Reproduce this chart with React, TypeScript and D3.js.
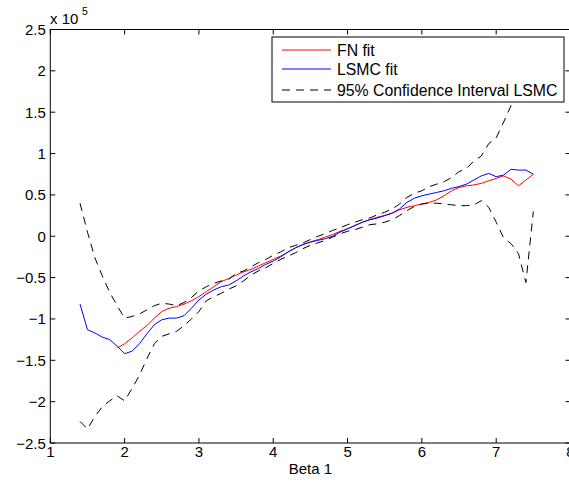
import React from "react";
import * as d3 from "d3";

const betaGrid = d3.range(62).map((i) => +(1.4 + i * 0.1).toFixed(1));

// LSMC fit (x 1e5), x from 1.4 to 7.5
const lsmcFit = [
  -0.82, -1.13, -1.17, -1.22, -1.25, -1.33, -1.42, -1.39, -1.30, -1.18,
  -1.07, -1.01, -0.99, -0.99, -0.96, -0.87, -0.77, -0.70, -0.65, -0.61,
  -0.59, -0.54, -0.48, -0.43, -0.39, -0.34, -0.30, -0.25, -0.19, -0.14,
  -0.10, -0.07, -0.05, -0.03, 0.00, 0.05, 0.09, 0.13, 0.17, 0.20,
  0.22, 0.25, 0.28, 0.33, 0.41, 0.46, 0.49, 0.51, 0.53, 0.55,
  0.58, 0.60, 0.63, 0.68, 0.73, 0.76, 0.72, 0.74, 0.81, 0.80,
  0.80, 0.75,
];

// FN fit (x 1e5), x from 1.9 to 7.5
const fnStart = 5;
const fnFit = [
  -1.35, -1.30, -1.23, -1.15, -1.08, -0.99, -0.91, -0.87, -0.85, -0.82,
  -0.78, -0.73, -0.67, -0.61, -0.55, -0.51, -0.47, -0.43, -0.40, -0.36,
  -0.32, -0.28, -0.24, -0.19, -0.14, -0.10, -0.07, -0.04, -0.01, 0.02,
  0.06, 0.09, 0.13, 0.17, 0.20, 0.23, 0.25, 0.28, 0.32, 0.35,
  0.37, 0.39, 0.41, 0.44, 0.49, 0.55, 0.59, 0.61, 0.62, 0.64,
  0.67, 0.70, 0.73, 0.69, 0.61, 0.68, 0.75,
];

// 95% confidence interval LSMC (x 1e5)
const ciUpper = [
  0.40, 0.05, -0.26, -0.48, -0.68, -0.84, -0.99, -0.97, -0.94, -0.89,
  -0.84, -0.81, -0.82, -0.84, -0.80, -0.74, -0.66, -0.61, -0.57, -0.54,
  -0.52, -0.45, -0.42, -0.37, -0.32, -0.28, -0.23, -0.19, -0.14, -0.11,
  -0.08, -0.04, 0.00, 0.03, 0.07, 0.10, 0.14, 0.17, 0.20, 0.22,
  0.26, 0.29, 0.33, 0.39, 0.47, 0.52, 0.55, 0.60, 0.63, 0.66,
  0.71, 0.78, 0.82, 0.91, 0.97, 1.12, 1.19, 1.38, 1.58, 1.80,
  2.05, 2.25,
];
const ciLower = [
  -2.24, -2.33, -2.18, -2.06, -1.99, -1.93, -1.99, -1.84, -1.68, -1.48,
  -1.30, -1.21, -1.18, -1.15, -1.08, -1.00, -0.91, -0.78, -0.73, -0.69,
  -0.64, -0.60, -0.54, -0.47, -0.42, -0.38, -0.33, -0.28, -0.24, -0.20,
  -0.15, -0.11, -0.08, -0.05, -0.01, 0.03, 0.06, 0.08, 0.11, 0.14,
  0.15, 0.17, 0.20, 0.25, 0.31, 0.36, 0.39, 0.40, 0.40, 0.39,
  0.38, 0.37, 0.37, 0.38, 0.43, 0.35, 0.17, -0.02, -0.09, -0.21,
  -0.56, 0.30,
];

const xTicks = [1, 2, 3, 4, 5, 6, 7, 8];
const yTicks = [-2.5, -2, -1.5, -1, -0.5, 0, 0.5, 1, 1.5, 2, 2.5];
const legendLabels = ["FN fit", "LSMC fit", "95% Confidence Interval LSMC"];

const W = 569;
const H = 483;
const L = 50.3;
const R = 570.5;
const T = 29.5;
const B = 443;
const FONT = "'Liberation Sans', Arial, Helvetica, sans-serif";
const DASH = "8,6";

export default function App() {
  const x = d3.scaleLinear().domain([1, 8]).range([L, R]);
  const y = d3.scaleLinear().domain([-2.5, 2.5]).range([B, T]);
  const line = d3
    .line<[number, number]>()
    .x((d) => x(d[0]))
    .y((d) => y(d[1]));

  const lsmcPts = betaGrid.map((b, i) => [b, lsmcFit[i]] as [number, number]);
  const fnPts = fnFit.map((v, i) => [betaGrid[i + fnStart], v] as [number, number]);
  const upPts = betaGrid.map((b, i) => [b, ciUpper[i]] as [number, number]);
  const loPts = betaGrid.map((b, i) => [b, ciLower[i]] as [number, number]);

  const tickLen = 5;
  const legX = 272;
  const legY = 37;
  const legW = 292;
  const legH = 65;
  const rows = [50, 69, 90];
  const legStyles = [
    { stroke: "#ff0000", dash: undefined },
    { stroke: "#0000ff", dash: undefined },
    { stroke: "#000000", dash: DASH },
  ];

  return (
    <svg
      width={W}
      height={H}
      style={{ position: "absolute", left: 0, top: 0, background: "#fff" }}
      fontFamily={FONT}
    >
      <rect x={0} y={0} width={W} height={H} fill="#fff" />
      <defs>
        <clipPath id="plot">
          <rect x={L} y={T} width={R - L} height={B - T} />
        </clipPath>
      </defs>

      <g clipPath="url(#plot)" fill="none" strokeWidth={1}>
        <path d={line(fnPts) || ""} stroke="#ff0000" />
        <path d={line(lsmcPts) || ""} stroke="#0000ff" />
        <path d={line(upPts) || ""} stroke="#000" strokeDasharray={DASH} />
        <path d={line(loPts) || ""} stroke="#000" strokeDasharray={DASH} />
      </g>

      {/* axes box */}
      <rect x={L} y={T} width={R - L} height={B - T} fill="none" stroke="#000" strokeWidth={1} />

      {/* x ticks */}
      {xTicks.map((t) => (
        <g key={"x" + t}>
          <line x1={x(t)} x2={x(t)} y1={B} y2={B - tickLen} stroke="#000" />
          <line x1={x(t)} x2={x(t)} y1={T} y2={T + tickLen} stroke="#000" />
          <text x={x(t)} y={B + 14} fontSize={15} textAnchor="middle" fill="#000">
            {t}
          </text>
        </g>
      ))}

      {/* y ticks */}
      {yTicks.map((t) => (
        <g key={"y" + t}>
          <line x1={L} x2={L + tickLen} y1={y(t)} y2={y(t)} stroke="#000" />
          <line x1={R} x2={R - tickLen} y1={y(t)} y2={y(t)} stroke="#000" />
          <text x={L - 4.5} y={y(t) + 5.5} fontSize={15} textAnchor="end" fill="#000">
            {t < 0 ? "\u2212" + Math.abs(t) : String(t)}
          </text>
        </g>
      ))}

      {/* exponent */}
      <text x={50} y={23.5} fontSize={15} fill="#000">
        x 10
      </text>
      <text x={82} y={14.5} fontSize={10.5} fill="#000">
        5
      </text>

      {/* x label */}
      <text x={(L + R) / 2} y={474} fontSize={15} textAnchor="middle" fill="#000">
        Beta 1
      </text>

      {/* legend */}
      <rect x={legX} y={legY} width={legW} height={legH} fill="#fff" stroke="#000" strokeWidth={1} />
      {legendLabels.map((lab, i) => (
        <g key={lab}>
          <line
            x1={282}
            x2={331}
            y1={rows[i]}
            y2={rows[i]}
            stroke={legStyles[i].stroke}
            strokeDasharray={legStyles[i].dash}
          />
          <text x={337} y={rows[i] + 5.5} fontSize={15.8} fill="#000">
            {lab}
          </text>
        </g>
      ))}
    </svg>
  );
}
